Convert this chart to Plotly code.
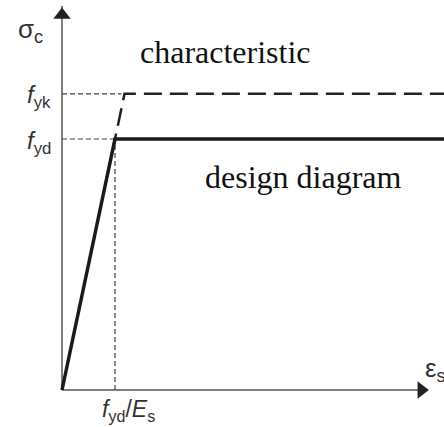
import plotly.graph_objects as go

# --- data (normalised: f_yd = 1, f_yd/E_s = 1) ---
design_strain = [0.0, 1.0, 7.3]
design_stress = [0.0, 1.0, 1.0]
char_strain = [0.85, 1.18, 7.3]
char_stress = [0.85, 1.18, 1.18]
f_yk = 1.18
f_yd = 1.0
eps_yd = 1.0
x_axis_end = 6.9
y_axis_end = 1.53

fig = go.Figure()

# axes
fig.add_trace(go.Scatter(x=[0, x_axis_end], y=[0, 0], mode="lines",
                         line=dict(color="#555", width=1.5), hoverinfo="skip"))
fig.add_trace(go.Scatter(x=[0, 0], y=[0, y_axis_end], mode="lines",
                         line=dict(color="#555", width=1.5), hoverinfo="skip"))
# arrow heads
fig.add_trace(go.Scatter(x=[x_axis_end - 0.12], y=[0], mode="markers",
                         marker=dict(symbol="triangle-right", size=15, color="#222"),
                         hoverinfo="skip"))
fig.add_trace(go.Scatter(x=[0], y=[y_axis_end - 0.036], mode="markers",
                         marker=dict(symbol="triangle-up", size=15, color="#222"),
                         hoverinfo="skip"))

# guide lines
guide = dict(color="#444", width=1.2, dash="5px,3px")
fig.add_trace(go.Scatter(x=[0, 1.12], y=[f_yk, f_yk], mode="lines", line=guide, hoverinfo="skip"))
fig.add_trace(go.Scatter(x=[0, eps_yd], y=[f_yd, f_yd], mode="lines", line=guide, hoverinfo="skip"))
fig.add_trace(go.Scatter(x=[eps_yd, eps_yd], y=[0, f_yd], mode="lines", line=guide, hoverinfo="skip"))

# characteristic curve
fig.add_trace(go.Scatter(x=char_strain, y=char_stress, mode="lines",
                         line=dict(color="#222", width=2.5, dash="18px,8px"), hoverinfo="skip"))
# design curve
fig.add_trace(go.Scatter(x=design_strain, y=design_stress, mode="lines",
                         line=dict(color="#1a1a1a", width=3.5), hoverinfo="skip"))

sans = "Liberation Sans, Arial, sans-serif"
serif = "Liberation Serif, Times New Roman, serif"
ann = [
    dict(x=-0.6, y=1.434, text="σ<sub>c</sub>", font=dict(family=sans, size=26, color="#333"),
         xanchor="center", yanchor="middle"),
    dict(x=-0.17, y=f_yk - 0.012, text="<i>f</i><sub>yk</sub>", font=dict(family=sans, size=24, color="#333"),
         xanchor="right", yanchor="middle"),
    dict(x=-0.17, y=f_yd - 0.012, text="<i>f</i><sub>yd</sub>", font=dict(family=sans, size=24, color="#333"),
         xanchor="right", yanchor="middle"),
    dict(x=1.26, y=-0.08, text="<i>f</i><sub>yd</sub>/<i>E</i><sub>s</sub>",
         font=dict(family=sans, size=23, color="#333"), xanchor="center", yanchor="middle"),
    dict(x=6.81, y=0.08, text="ε<sub>s</sub>", font=dict(family=sans, size=26, color="#333"),
         xanchor="left", yanchor="middle"),
    dict(x=3.09, y=1.345, text="characteristic", font=dict(family=serif, size=32, color="#111"),
         xanchor="center", yanchor="middle"),
    dict(x=4.55, y=0.85, text="design diagram", font=dict(family=serif, size=32, color="#111"),
         xanchor="center", yanchor="middle"),
]
for a in ann:
    a.update(showarrow=False, xref="x", yref="y")

fig.update_layout(
    width=444, height=427,
    margin=dict(l=0, r=0, t=0, b=0),
    paper_bgcolor="white", plot_bgcolor="white",
    showlegend=False,
    xaxis=dict(range=[-62 / 53, 382 / 53], visible=False, fixedrange=True),
    yaxis=dict(range=[(390 - 427) / 251, 390 / 251], visible=False, fixedrange=True),
    annotations=ann,
)

fig.write_html("out.html", config={"displayModeBar": False},
               post_script="document.body.style.margin='0';")
